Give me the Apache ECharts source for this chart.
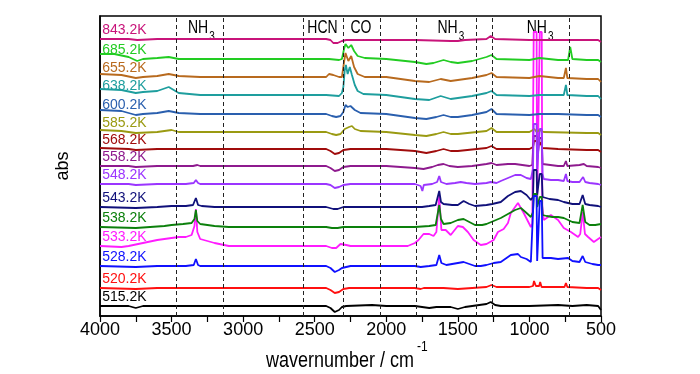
<!DOCTYPE html>
<html><head><meta charset="utf-8">
<script src="https://cdn.jsdelivr.net/npm/echarts@6/dist/echarts.min.js"></script>
<style>html,body{margin:0;padding:0;background:#fff}#c{width:700px;height:374px}</style>
</head><body><div id="c"></div>
<script>
// ---------- data ----------
const temps = ['843.2K','685.2K','655.2K','638.2K','600.2K','585.2K','568.2K','558.2K','548.2K','543.2K','538.2K','533.2K','528.2K','520.2K','515.2K'];
// baseline of each stacked spectrum (arbitrary abs units)
const offsets = [277,257,239,221,202,184,167,150,132,109,89,70,50,28,10];
// spectra: [wavenumber, absorbance relative to baseline]
const s843 = [[4000,0],[3800,0],[3740,-1],[3600,0],[2420,0],[2390,-1],[2370,-4],[2340,-4],[2310,-2],[2280,-1],[2000,-1],[1800,-1],[1550,-2],[1500,-2],[1450,-1],[1300,0],[1270,3],[1240,0],[1000,-1],[800,-1],[600,-1],[520,-1],[500,-3]];
const s685 = [[4000,5],[3900,5],[3800,2],[3740,-2],[3700,0],[3600,1],[3520,2],[3450,0],[2400,0],[2330,-1],[2310,0],[2295,10],[2285,15],[2265,11],[2245,14],[2225,8],[2200,3],[2150,1],[2000,0],[1800,-3],[1720,-5],[1670,-4],[1600,-1],[1550,-3],[1500,-4],[1400,-2],[1300,2],[1265,4],[1230,0],[1000,-1],[930,1],[800,-1],[730,-1],[715,12],[700,0],[600,-1],[520,-1],[500,-3]];
const s655 = [[4000,3],[3850,2],[3750,-1],[3700,0],[3600,1],[3520,3],[3450,1],[3300,0],[2420,0],[2400,3],[2370,2],[2330,0],[2310,0],[2295,15],[2285,24],[2265,16],[2245,21],[2225,10],[2200,3],[2150,0],[2000,0],[1800,-4],[1700,-5],[1620,-2],[1550,-4],[1500,-3],[1400,-1],[1300,2],[1265,4],[1230,0],[1000,-1],[930,1],[800,-1],[760,-1],[745,9],[735,-1],[600,-2],[520,-2],[500,-5]];
const s638 = [[4000,6],[3850,5],[3750,2],[3700,3],[3600,4],[3520,8],[3450,2],[3300,0],[2420,0],[2330,-1],[2310,2],[2300,8],[2290,25],[2282,30],[2270,21],[2255,28],[2240,20],[2220,10],[2200,4],[2160,1],[2000,0],[1800,-4],[1700,-5],[1620,-1],[1550,-4],[1500,-3],[1400,-1],[1300,2],[1265,4],[1230,0],[1000,-1],[930,0],[800,0],[760,0],[745,10],[735,0],[600,-1],[520,-1],[500,-4]];
const s600 = [[4000,4],[3850,3],[3750,-1],[3700,0],[3600,1],[3520,3],[3450,1],[3300,0],[2420,0],[2380,-2],[2350,-3],[2320,-2],[2300,2],[2285,9],[2270,7],[2250,8],[2220,4],[2180,1],[2000,0],[1800,-4],[1720,-5],[1650,-3],[1600,-1],[1550,-3],[1500,-3],[1400,-1],[1300,2],[1265,5],[1230,0],[1000,-1],[930,0],[800,0],[600,-1],[520,-1],[500,-3]];
const s585 = [[4000,2],[3850,1],[3750,-1],[3600,0],[3500,2],[3450,0],[2420,0],[2380,-2],[2350,-3],[2320,-2],[2290,3],[2260,5],[2240,6],[2220,3],[2180,1],[2000,0],[1800,-3],[1720,-4],[1650,-2],[1600,0],[1550,-2],[1500,-2],[1300,1],[1265,4],[1230,0],[1000,0],[965,3],[950,0],[930,2],[900,0],[600,-1],[520,-1],[500,-3]];
const s568 = [[4000,1],[3800,0],[3750,-1],[3600,0],[2420,0],[2390,-2],[2360,-5],[2330,-4],[2300,-1],[2250,0],[2000,0],[1800,-2],[1720,-4],[1650,-2],[1600,0],[1550,-2],[1500,-2],[1300,1],[1265,3],[1230,0],[1000,0],[975,2],[968,8],[950,8],[945,2],[932,2],[927,7],[914,7],[908,1],[800,0],[600,-1],[520,-1],[500,-3]];
const s558 = [[4000,0],[3800,0],[3750,-1],[3600,0],[3350,0],[3320,1],[3300,0],[2420,0],[2390,-2],[2360,-5],[2330,-4],[2300,-1],[2250,0],[2000,0],[1800,-2],[1740,-3],[1680,-1],[1640,1],[1600,2],[1560,0],[1500,-1],[1400,0],[1300,2],[1265,3],[1230,1],[1150,2],[1100,2],[1050,1],[1000,0],[980,1],[970,30],[950,30],[946,6],[934,6],[928,28],[914,28],[908,2],[900,1],[800,0],[760,0],[745,5],[735,0],[650,1],[620,2],[600,0],[520,-1],[500,-2]];
const s548 = [[4000,0],[3800,0],[3750,-1],[3600,0],[3400,0],[3345,1],[3330,4],[3315,1],[3300,0],[2420,0],[2390,-1],[2360,-4],[2330,-3],[2300,-1],[2250,0],[1800,0],[1760,-2],[1748,-7],[1738,-1],[1680,0],[1645,2],[1630,8],[1618,2],[1580,0],[1520,1],[1480,2],[1440,1],[1380,0],[1300,1],[1270,2],[1230,1],[1200,3],[1150,6],[1100,9],[1060,9],[1020,6],[990,5],[975,15],[970,60],[950,60],[946,15],[934,15],[928,55],[914,55],[908,10],[900,5],[850,4],[800,4],[760,3],[745,10],[735,3],[700,2],[650,2],[625,7],[610,2],[580,1],[520,0],[500,-1]];
const s543 = [[4000,0],[3750,-1],[3600,0],[3500,1],[3400,1],[3350,2],[3330,9],[3315,2],[3290,1],[3200,0],[2420,0],[2370,-2],[2340,-2],[2300,0],[1800,0],[1750,0],[1700,1],[1655,2],[1630,16],[1618,5],[1600,3],[1540,2],[1500,2],[1460,6],[1420,3],[1380,1],[1300,2],[1260,3],[1200,5],[1150,11],[1100,15],[1060,16],[1020,12],[990,7],[975,10],[970,37],[950,37],[946,12],[934,12],[928,33],[914,33],[908,10],[900,8],[860,8],[800,7],[760,5],[700,3],[650,3],[628,12],[610,3],[580,2],[520,1],[500,0]];
const s538 = [[4000,0],[3750,-1],[3650,0],[3550,1],[3500,2],[3420,3],[3360,4],[3340,8],[3330,17],[3320,6],[3300,3],[3200,1],[3100,0],[2420,0],[2380,-1],[2340,-1],[2300,0],[1800,0],[1700,1],[1655,2],[1630,22],[1618,8],[1600,3],[1550,4],[1500,7],[1460,8],[1420,5],[1380,2],[1330,2],[1300,3],[1250,6],[1200,9],[1150,13],[1100,17],[1060,19],[1020,14],[990,10],[975,15],[970,33],[950,33],[946,20],[934,20],[928,30],[914,30],[908,12],[880,11],[840,10],[800,10],[760,9],[700,5],[650,4],[628,22],[610,5],[580,2],[540,2],[500,3]];
const s533 = [[4000,0],[3850,-1],[3800,0],[3700,3],[3600,6],[3500,8],[3450,9],[3400,9],[3360,11],[3340,20],[3330,37],[3320,14],[3300,7],[3250,5],[3200,3],[3100,0],[3000,0],[2420,0],[2380,-2],[2350,-2],[2320,2],[2280,1],[2250,0],[1850,0],[1800,3],[1775,6],[1740,12],[1700,12],[1670,10],[1650,14],[1630,50],[1615,16],[1585,16],[1550,11],[1500,20],[1465,19],[1430,14],[1390,6],[1340,1],[1300,2],[1250,6],[1220,14],[1180,17],[1150,23],[1130,33],[1080,43],[1040,33],[990,19],[980,22],[970,214],[950,214],[946,40],[934,40],[928,214],[914,214],[910,40],[900,26],[850,31],[800,26],[760,18],[710,14],[660,9],[645,12],[628,34],[612,12],[590,9],[550,4],[500,9]];
const s528 = [[4000,0],[3750,-1],[3600,0],[3400,0],[3345,1],[3330,7],[3315,1],[3300,0],[2420,0],[2390,-2],[2360,-6],[2330,-4],[2310,-2],[2280,-1],[2250,0],[1800,0],[1760,-1],[1700,0],[1650,1],[1630,11],[1615,3],[1580,1],[1500,3],[1460,4],[1420,2],[1380,0],[1340,0],[1300,1],[1250,3],[1200,4],[1130,11],[1080,12],[1060,9],[1020,7],[990,4],[978,2],[970,70],[950,70],[946,5],[934,5],[928,65],[914,65],[908,8],[900,9],[850,8],[800,7],[730,8],[700,5],[650,4],[628,10],[610,4],[560,2],[520,1],[500,1]];
const s520 = [[4000,0],[3750,-1],[3600,0],[2420,0],[2390,-2],[2360,-5],[2330,-4],[2300,-1],[2260,0],[1800,0],[1760,-1],[1748,-3],[1738,0],[1600,0],[1500,-1],[1300,1],[1265,3],[1230,1],[1000,1],[975,2],[968,7],[955,2],[932,2],[925,6],[915,1],[800,1],[755,1],[745,5],[735,1],[600,0],[520,0],[500,-2]];
const s515 = [[4000,0],[3800,0],[3750,-2],[3700,0],[3600,0],[2420,0],[2390,-2],[2360,-6],[2330,-4],[2310,-1],[2280,0],[2100,1],[2000,0],[1800,0],[1700,-2],[1650,-1],[1550,-1],[1500,-3],[1450,-1],[1400,0],[1300,2],[1270,4],[1240,1],[1200,0],[1000,0],[800,1],[700,0],[600,1],[520,0],[500,-4]];
const spectra = [s843,s685,s655,s638,s600,s585,s568,s558,s548,s543,s538,s533,s528,s520,s515];
// dashed guide lines (cm-1)
const guideLines = [3470,3140,2580,2300,2045,1790,1370,1260,720];
// band assignments: [main text, subscript, wavenumber anchor]
const bandLabels = [['NH','3',3244],['HCN','',2446],['CO','',2177],['NH','3',1501],['NH','3',878]];
const xTickLabels = [500,1000,1500,2000,2500,3000,3500,4000];

// ---------- styles ----------
const colors = ['#C8147A','#22CC22','#B86A1E','#1E9E9E','#2A5FAE','#9A9A12','#A00C0C','#8E1A8E','#9B35FF','#10107A','#0C800C','#FF1CFF','#1010FF','#FF1010','#000000'];
const drawOrder = [11,0,1,2,3,4,5,6,7,8,9,10,12,13,14];
const SANS = "'Liberation Sans',Arial,sans-serif";

const chart = echarts.init(document.getElementById('c'), null, {renderer:'canvas'});
const series = drawOrder.map(i => ({
  type:'line', name:temps[i],
  data: spectra[i].map(p => [p[0], offsets[i] + p[1]]),
  showSymbol:false, symbol:'none', silent:true, animation:false, z:3,
  lineStyle:{color:colors[i], width:1.8}, itemStyle:{color:colors[i]}
}));
series.unshift({
  type:'line', data:[], z:1, silent:true, animation:false,
  markLine:{silent:true, symbol:['none','none'], animation:false, label:{show:false},
    lineStyle:{type:[4,3], color:'#222', width:1},
    data: guideLines.map(v => ({xAxis:v}))}
});

chart.setOption({
  animation:false,
  grid:{left:100, right:99, top:16, bottom:58, show:true, borderColor:'#000', borderWidth:1.5, backgroundColor:'transparent'},
  xAxis:{type:'value', min:500, max:4000, interval:250, inverse:true,
    axisLine:{show:true, lineStyle:{color:'#000', width:1.5}},
    axisTick:{show:true, inside:false, length:6, lineStyle:{color:'#000', width:1.2}},
    splitLine:{show:false},
    axisLabel:{color:'#000', fontSize:18, fontFamily:SANS, margin:5,
      formatter: v => xTickLabels.includes(v) ? String(v) : ''}
  },
  yAxis:{type:'value', min:0, max:300, axisLabel:{show:false}, axisTick:{show:false}, splitLine:{show:false},
    axisLine:{show:true, lineStyle:{color:'#000', width:1.5}},
    name:'abs', nameLocation:'middle', nameGap:28, nameRotate:90,
    nameTextStyle:{color:'#000', fontSize:18, fontFamily:SANS}
  },
  series: series
});

// text annotations positioned through the chart's own scales
const px = (w, v) => chart.convertToPixel({gridIndex:0}, [w, v]);
const g = [];
temps.forEach((t, i) => {
  const p = px(3985, offsets[i] + 9);
  g.push({type:'text', x:p[0], y:p[1], silent:true, scaleY:1.1,
    style:{text:t, fill:colors[i], font:'14px ' + SANS, textAlign:'left', textVerticalAlign:'middle'}});
});
bandLabels.forEach(b => {
  const p = px(b[2], 288);
  if (b[1]) {
    g.push({type:'text', x:p[0], y:p[1], silent:true, scaleY:1.3,
      style:{text:b[0], fill:'#000', font:'14px ' + SANS, textAlign:'right', textVerticalAlign:'middle'}});
    g.push({type:'text', x:p[0] + 1, y:p[1] + 8, silent:true, scaleY:1.3,
      style:{text:b[1], fill:'#000', font:'10px ' + SANS, textAlign:'left', textVerticalAlign:'middle'}});
  } else {
    g.push({type:'text', x:p[0], y:p[1], silent:true, scaleY:1.3,
      style:{text:b[0], fill:'#000', font:'14px ' + SANS, textAlign:'center', textVerticalAlign:'middle'}});
  }
});
const nm = px(2323, 0);
g.push({type:'text', x:nm[0], y:nm[1] + 45, silent:true, scaleY:1.2,
  style:{text:'wavernumber / cm', fill:'#000', font:'18px ' + SANS, textAlign:'center', textVerticalAlign:'middle'}});
g.push({type:'text', x:nm[0] + 77, y:nm[1] + 31, silent:true, scaleY:1.2,
  style:{text:'-1', fill:'#000', font:'12px ' + SANS, textAlign:'left', textVerticalAlign:'middle'}});
chart.setOption({graphic:g});
</script></body></html>
